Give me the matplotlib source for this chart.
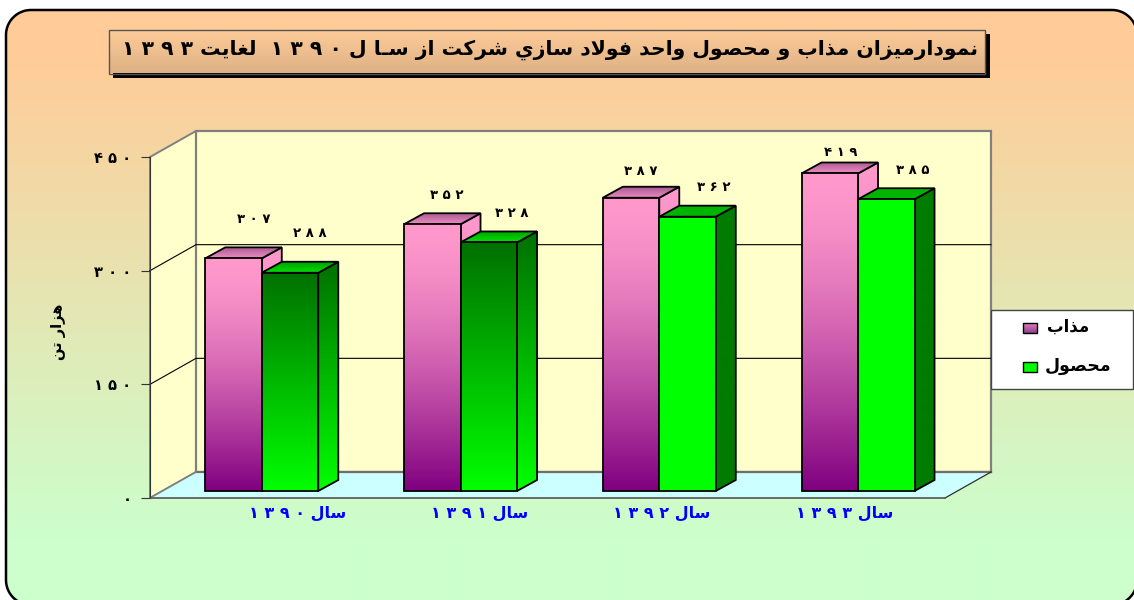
import re
import unicodedata
import numpy as np
import matplotlib
matplotlib.use('Agg')
import matplotlib.pyplot as plt
from matplotlib.colors import to_rgb
from matplotlib.patches import Polygon, Rectangle

years = ['سال ۱۳۹۰', 'سال ۱۳۹۱', 'سال ۱۳۹۲', 'سال ۱۳۹۳']
melt = [307, 352, 387, 419]
product = [288, 328, 362, 385]
series_names = ['مذاب', 'محصول']
y_ticks = [0, 150, 300, 450]
title = 'نمودارميزان مذاب و محصول واحد فولاد سازي شركت از سـا ل ۱۳۹۰  لغايت ۱۳۹۳'
y_label = 'هزار تن'

W, H = 1134, 600
FONT = 'DejaVu Sans'

# the value labels were placed by hand in the original, pixels from the bar's back top
melt_label_off = [(20, 28), (14, 18), (10, 15), (11, 10)]
product_label_off = [(20, 28), (23, 18), (26, 18), (26, 18)]

# matplotlib does not shape arabic, so pick presentation forms by hand
FORMS = {}
for code in list(range(0xFB50, 0xFE00)) + list(range(0xFE70, 0xFEFF)):
    parts = unicodedata.decomposition(chr(code)).split()
    if len(parts) == 2 and parts[0] in ('<isolated>', '<final>', '<initial>', '<medial>'):
        FORMS.setdefault(chr(int(parts[1], 16)), {}).setdefault(parts[0][1:-1], chr(code))


def joins_next(c):
    return c == '\u0640' or 'initial' in FORMS.get(c, {})


def joins_prev(c):
    return c == '\u0640' or 'final' in FORMS.get(c, {})


def shape(text):
    text = text.replace('لا', '\uFEFB')
    out = ''
    for i, c in enumerate(text):
        if c not in FORMS:
            out += c
            continue
        prev = text[i - 1] if i > 0 else ' '
        nxt = text[i + 1] if i + 1 < len(text) else ' '
        p = joins_next(prev)
        n = joins_prev(nxt)
        f = FORMS[c]
        if p and n and 'medial' in f:
            out += f['medial']
        elif p and 'final' in f:
            out += f['final']
        elif n and 'initial' in f:
            out += f['initial']
        else:
            out += f.get('isolated', c)
    return out


def rtl(text, digit_gap='\u2009'):
    chunks = re.findall(r'[۰-۹]+|[^۰-۹]+', shape(text))
    res = []
    for chunk in reversed(chunks):
        if chunk[0] in '۰۱۲۳۴۵۶۷۸۹':
            res.append(digit_gap.join(chunk))
        else:
            res.append(chunk[::-1])
    return ''.join(res)


def fa(n):
    return ''.join('۰۱۲۳۴۵۶۷۸۹'[int(d)] for d in str(n))


def face(axis, verts, top, bottom, z, edge='black', lw=1.3, curve=1.0):
    ys = [v[1] for v in verts]
    xs = [v[0] for v in verts]
    poly = Polygon(verts, closed=True, facecolor='none', edgecolor=edge, linewidth=lw,
                   zorder=z + 0.1, clip_on=False, joinstyle='miter')
    axis.add_patch(poly)
    t = (np.linspace(0, 1, 128) ** curve)[:, None, None]
    grad = np.array(to_rgb(top)) * (1 - t) + np.array(to_rgb(bottom)) * t
    y_hi, y_lo = max(ys), min(ys)
    if axis.yaxis_inverted():
        y_hi, y_lo = y_lo, y_hi
    im = axis.imshow(grad, extent=(min(xs), max(xs), y_lo, y_hi), origin='upper', aspect='auto',
                     interpolation='bilinear', zorder=z)
    im.set_clip_box(fig.bbox)
    im.set_clip_path(poly)


def pixel_axes(z):
    a = fig.add_axes([0, 0, 1, 1], zorder=z)
    a.set_xlim(0, W)
    a.set_ylim(H, 0)
    a.axis('off')
    a.patch.set_visible(False)
    return a


def rounded_outline(x0, y0, x1, y1, r):
    # corner arcs as plain points, the curved box style draws badly past the figure edge
    pts = []
    for cx, cy, start in [(x1 - r, y0 + r, -90), (x1 - r, y1 - r, 0), (x0 + r, y1 - r, 90), (x0 + r, y0 + r, 180)]:
        t = np.radians(np.linspace(start, start + 90, 24))
        pts += list(zip(cx + r * np.cos(t), cy + r * np.sin(t)))
    return pts


fig = plt.figure(figsize=(W / 100, H / 100), dpi=100, facecolor='white')

# rounded frame with the peach to green background
bg = pixel_axes(0)
frame = Polygon(rounded_outline(6, 10, 1137, 605, 25), closed=True, facecolor='none', edgecolor='black',
                linewidth=1.8, zorder=2)
bg.add_patch(frame)
stops = np.interp(np.linspace(0, H, 300), [60, 540], [0, 1])[:, None, None]
bg_img = np.array(to_rgb('#FFCC99')) * (1 - stops) + np.array(to_rgb('#CCFFCC')) * stops
im = bg.imshow(bg_img, extent=(0, W, H, 0), aspect='auto', interpolation='bilinear', zorder=1)
im.set_clip_path(frame)

# front plane of the 3d box: value 0 at y=498px, 450 at y=157px
ax = fig.add_axes([150 / W, (H - 498) / H, 795 / W, 341 / H], zorder=1)
ax.set_xlim(0, 4)
ax.set_ylim(0, 450)
ax.patch.set_visible(False)
px_x = 4 / 795
px_y = 450 / 341
box_dx, box_dy = 46 * px_x, 26 * px_y

ax.add_patch(Polygon([(0, 0), (0, 450), (box_dx, 450 + box_dy), (box_dx, box_dy)],
                     facecolor='#FFFFCC', edgecolor='#808080', linewidth=1.4, zorder=1, clip_on=False))
ax.add_patch(Rectangle((box_dx, box_dy), 4, 450, facecolor='#FFFFCC', edgecolor='#808080',
                       linewidth=1.6, zorder=1, clip_on=False))
ax.add_patch(Polygon([(0, 0), (4, 0), (4 + box_dx, box_dy), (box_dx, box_dy)],
                     facecolor='#CCFFFF', edgecolor='none', zorder=1.1, clip_on=False))
ax.plot([box_dx, 4 + box_dx], [box_dy, box_dy], color='#6E6E6E', lw=1.6, zorder=1.2, clip_on=False)
ax.plot([4, 4 + box_dx], [0, box_dy], color='#303030', lw=0.9, zorder=1.2, clip_on=False)
ax.plot([0, box_dx], [0, box_dy], color='#808080', lw=1.2, zorder=1.2, clip_on=False)
for v in y_ticks[1:3]:
    ax.plot([0, box_dx, 4 + box_dx], [v, v + box_dy, v + box_dy], color='black', lw=0.8,
            zorder=1.2, clip_on=False)

# bars
bar_w = 56.5 * px_x
off_x, off_y = 12.4 * px_x, 7 * px_y
dep_x, dep_y = 20 * px_x, 11 * px_y


def draw_bar(x0, value, z, front, side, top_face, label_off, curve=1.0):
    x1 = x0 + bar_w
    y0, y1 = off_y, off_y + value
    face(ax, [(x1, y0), (x1 + dep_x, y0 + dep_y), (x1 + dep_x, y1 + dep_y), (x1, y1)],
         side[0], side[1], z, curve=curve)
    face(ax, [(x0, y1), (x1, y1), (x1 + dep_x, y1 + dep_y), (x0 + dep_x, y1 + dep_y)],
         top_face[0], top_face[1], z + 0.2)
    face(ax, [(x0, y0), (x1, y0), (x1, y1), (x0, y1)], front[0], front[1], z + 0.4, curve=curve)
    ax.text(x0 + bar_w / 2 + label_off[0] * px_x, y1 + dep_y + label_off[1] * px_y, rtl(fa(value), ' '),
            family=FONT, fontweight='bold', fontsize=9.5, ha='center', va='center', color='black', zorder=20)


pink = ('#FF99CC', '#800080')
pink_top = ('#A85A92', '#EC8CC0')
z = 3
for i in range(len(years)):
    center = i + 0.5 + off_x
    draw_bar(center - bar_w, melt[i], z, pink, pink, pink_top, melt_label_off[i], curve=1.5)
    if i < 2:
        draw_bar(center, product[i], z + 1, ('#007000', '#00FF00'), ('#007000', '#00FF00'),
                 ('#00A000', '#00E000'), product_label_off[i])
    else:
        draw_bar(center, product[i], z + 1, ('#00FF00', '#00FF00'), ('#007C00', '#007C00'),
                 ('#00B400', '#00B400'), product_label_off[i])
    z += 2

ax.set_xticks([])
ax.set_yticks(y_ticks)
ax.set_yticklabels([rtl(fa(v), ' ') for v in y_ticks], family=FONT, fontweight='bold', fontsize=10.5)
ax.tick_params(axis='y', length=6.5, width=0.8, pad=7, color='#333333')
ax.spines['top'].set_visible(False)
ax.spines['right'].set_visible(False)
ax.spines['left'].set_color('#333333')
ax.spines['bottom'].set_color('#555555')
ax.spines['bottom'].set_linewidth(1.2)

# title box, legend and free text sit above the plot
top = pixel_axes(2)
top.add_patch(Rectangle((113, 34), 877, 44, facecolor='black', edgecolor='none', zorder=1))
face(top, [(108.5, 29.5), (985, 29.5), (985, 73.5), (108.5, 73.5)], '#FFCC99', '#DDB185', 2,
     edge='#555555', lw=1.0)
top.text(550, 50, rtl(title, ' '), family=FONT, fontweight='bold', fontsize=14.7, ha='center', va='center',
         zorder=5)

top.add_patch(Rectangle((990.5, 309.5), 142, 79, facecolor='white', edgecolor='#444444', linewidth=1, zorder=1))
face(top, [(1023, 323), (1037, 323), (1037, 333), (1023, 333)], '#E080B8', '#904090', 2, lw=1)
face(top, [(1023, 362), (1037, 362), (1037, 372), (1023, 372)], '#00FF00', '#00FF00', 2, lw=1)
top.text(1068, 327, rtl(series_names[0]), family=FONT, fontweight='bold', fontsize=12, ha='center', va='center')
top.text(1078, 366, rtl(series_names[1]), family=FONT, fontweight='bold', fontsize=12.5, ha='center', va='center')

for label, cx in zip(years, [298, 480, 662, 845]):
    top.text(cx, 513, rtl(label, ' '), family=FONT, fontweight='bold', fontsize=11.5, color='#0000FF',
             ha='center', va='center')
top.text(58, 332, rtl(y_label), family=FONT, fontweight='bold', fontsize=10.5, rotation=90, ha='center', va='center')

fig.savefig('out.png', dpi=100)
